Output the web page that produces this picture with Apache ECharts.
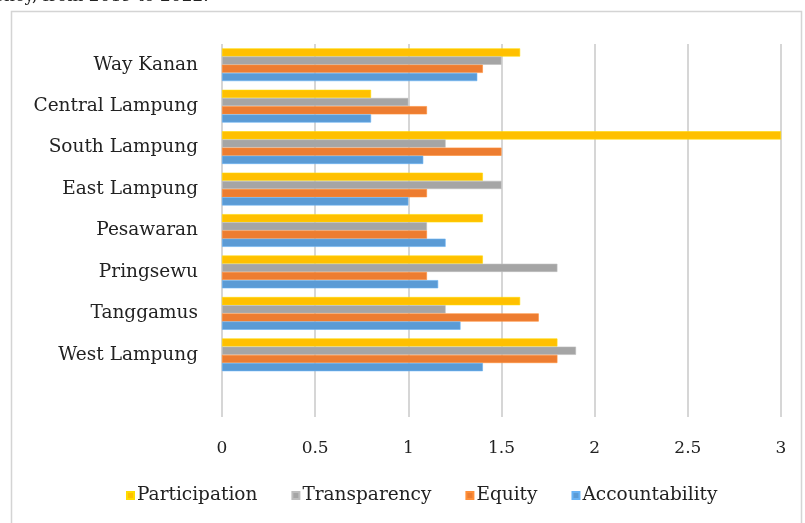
<!DOCTYPE html>
<html>
<head>
<meta charset="utf-8">
<script src="https://cdn.jsdelivr.net/npm/echarts@6/dist/echarts.min.js"></script>
<style>
  html, body { margin: 0; padding: 0; background: #fff; }
  #main { width: 805px; height: 523px; }
</style>
</head>
<body>
<div id="main"></div>
<script>
// bottom to top, first row left empty like in the original sheet
const regions = ['', 'West Lampung', 'Tanggamus', 'Pringsewu', 'Pesawaran', 'East Lampung', 'South Lampung', 'Central Lampung', 'Way Kanan']
const participation = [null, 1.8, 1.6, 1.4, 1.4, 1.4, 3.0, 0.8, 1.6]
const transparency = [null, 1.9, 1.2, 1.8, 1.1, 1.5, 1.2, 1.0, 1.5]
const equity = [null, 1.8, 1.7, 1.1, 1.1, 1.1, 1.5, 1.1, 1.4]
const accountability = [null, 1.4, 1.28, 1.16, 1.2, 1.0, 1.08, 0.8, 1.37]
const xTicks = [0, 0.5, 1, 1.5, 2, 2.5, 3]

const font = 'DejaVu Serif'
const chartDom = document.getElementById('main')
const myChart = echarts.init(chartDom)

function bar(name, data, color) {
    return {
        name,
        type: 'bar',
        data,
        barGap: '0%',
        barCategoryGap: '21%',
        itemStyle: { color, borderColor: echarts.color.lift(color, -0.15), borderWidth: 0.6 }
    }
}

const option = {
    animation: false,
    textStyle: { fontFamily: font },
    graphic: [
        {
            type: 'rect',
            shape: { x: 11.5, y: 11.5, width: 790, height: 520 },
            style: { fill: 'none', stroke: '#d4d4d4', lineWidth: 1.5 }
        },
        {
            type: 'text',
            left: -6,
            top: -12,
            style: { text: 'ency, from 2019 to 2022.', font: '17px "DejaVu Serif"', fill: '#222' }
        }
    ],
    grid: { left: 222, right: 24, top: 44, bottom: 106 },
    legend: {
        data: ['Participation', 'Transparency', 'Equity', 'Accountability'],
        bottom: 13,
        left: 121,
        icon: 'rect',
        itemWidth: 7,
        itemHeight: 7,
        itemGap: 34,
        textStyle: { fontFamily: font, fontSize: 18.5, color: '#222', padding: [0, 0, 0, -2] }
    },
    xAxis: {
        type: 'value',
        min: 0,
        max: 3,
        interval: 0.5,
        axisLine: { show: false },
        axisTick: { show: false },
        splitLine: { lineStyle: { color: '#c8c8c8', width: 1.5 } },
        axisLabel: {
            fontFamily: font,
            fontSize: 17,
            color: '#222',
            margin: 23,
            formatter: v => xTicks.includes(v) ? String(v) : ''
        }
    },
    yAxis: {
        type: 'category',
        data: regions,
        axisLine: { show: false },
        axisTick: { show: false },
        axisLabel: { fontFamily: font, fontSize: 18.5, color: '#222', margin: 24 }
    },
    series: [
        bar('Participation', participation, '#FFC000'),
        bar('Transparency', transparency, '#A5A5A5'),
        bar('Equity', equity, '#ED7D31'),
        bar('Accountability', accountability, '#5B9BD5')
    ]
}

myChart.setOption(option)
</script>
</body>
</html>
